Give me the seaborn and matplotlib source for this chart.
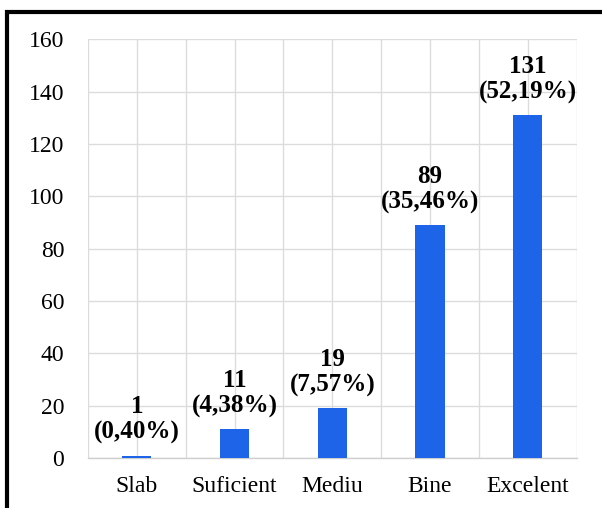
import numpy as np
import pandas as pd
import matplotlib
matplotlib.use("Agg")
import matplotlib.pyplot as plt
from matplotlib.patches import Rectangle
from matplotlib.ticker import FixedLocator
import seaborn as sns

categories = ["Slab", "Suficient", "Mediu", "Bine", "Excelent"]
counts = [1, 11, 19, 89, 131]
percents = [0.40, 4.38, 7.57, 35.46, 52.19]
y_ticks = [0, 20, 40, 60, 80, 100, 120, 140, 160]

sns.set_style("white")
plt.rcParams["font.family"] = ["Liberation Serif", "DejaVu Serif"]
plt.rcParams["text.color"] = "black"
plt.rcParams["xtick.color"] = "black"
plt.rcParams["ytick.color"] = "black"

df = pd.DataFrame({"categorie": categories, "numar": counts})

fig = plt.figure(figsize=(6.02, 5.08), dpi=100)
ax = fig.add_axes([0.146, 0.098, 0.812, 0.825])

sns.barplot(data=df, x="categorie", y="numar", color="#1E64E8",
            saturation=1, width=0.3, linewidth=0, ax=ax, zorder=3)

ax.set_ylim(0, 160)
ax.set_xlim(-0.5, len(categories) - 0.5)
ax.set_yticks(y_ticks)
ax.set_yticklabels([str(t) for t in y_ticks], fontsize=17)
ax.xaxis.set_minor_locator(FixedLocator(np.arange(-0.5, len(categories), 1.0)))
ax.set_xticks(range(len(categories)))
ax.set_xticklabels(categories, fontsize=17)
ax.tick_params(axis="both", which="both", length=0, colors="black")
ax.tick_params(axis="y", pad=17)
ax.tick_params(axis="x", pad=13)
ax.set_xlabel("")
ax.set_ylabel("")

ax.grid(True, which="major", axis="both", color="#dcdcdc", linewidth=1.0, zorder=0)
ax.grid(True, which="minor", axis="x", color="#dcdcdc", linewidth=1.0, zorder=0)
for side in ["top", "right", "left"]:
    ax.spines[side].set_visible(False)
ax.spines["bottom"].set_color("#cfcfcf")
ax.spines["bottom"].set_linewidth(1.0)

for i, (c, p) in enumerate(zip(counts, percents)):
    pct = f"{p:.2f}".replace(".", ",")
    ax.annotate(f"{c}\n({pct}%)", xy=(i, c), xytext=(0, 8),
                textcoords="offset points", ha="center", va="bottom",
                fontsize=18, fontweight="bold", linespacing=1.15,
                color="black", zorder=4)

# outer frame
fig.patches.append(Rectangle((0.011, -0.2), 1.2, 1.176, transform=fig.transFigure,
                             fill=False, edgecolor="black", linewidth=3,
                             clip_on=False))

fig.savefig("out.png", dpi=100)
